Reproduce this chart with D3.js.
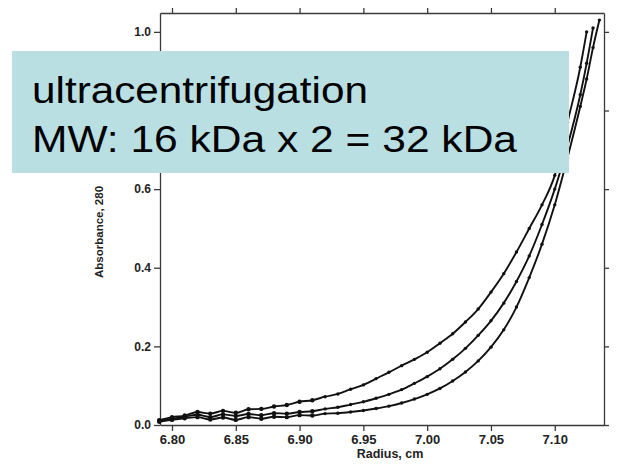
<!DOCTYPE html>
<html>
<head>
<meta charset="utf-8">
<script src="https://cdn.jsdelivr.net/npm/d3@7"></script>
<style>
  body { margin: 0; background: #fff; }
  svg { display: block; font-family: "Liberation Sans", Arial, sans-serif; }
</style>
</head>
<body>
<div id="graph"></div>
<script>
// radius (cm) at which each scan was read
var radius = [6.79, 6.80, 6.81, 6.82, 6.83, 6.84, 6.85, 6.86, 6.87, 6.88, 6.89,
              6.90, 6.91, 6.92, 6.93, 6.94, 6.95, 6.96, 6.97, 6.98, 6.99,
              7.00, 7.01, 7.02, 7.03, 7.04, 7.05, 7.06, 7.07, 7.08, 7.09,
              7.10, 7.11, 7.12, 7.125, 7.13, 7.135];

// absorbance at 280 nm, three scans
var scanA = [0.012, 0.020, 0.024, 0.033, 0.029, 0.036, 0.031, 0.040, 0.041, 0.047, 0.051,
             0.059, 0.063, 0.072, 0.079, 0.091, 0.102, 0.118, 0.134, 0.151, 0.167,
             0.185, 0.208, 0.232, 0.262, 0.295, 0.338, 0.385, 0.44, 0.50, 0.56,
             0.635, 0.77, 0.91, 1.00, null, null];
var scanB = [0.010, 0.016, 0.021, 0.026, 0.020, 0.027, 0.023, 0.028, 0.025, 0.030, 0.029,
             0.033, 0.035, 0.041, 0.045, 0.052, 0.059, 0.068, 0.078, 0.090, 0.106,
             0.123, 0.143, 0.167, 0.195, 0.228, 0.265, 0.31, 0.365, 0.43, 0.51,
             0.60, 0.71, 0.84, 0.92, 1.01, null];
var scanC = [0.008, 0.013, 0.017, 0.020, 0.014, 0.019, 0.013, 0.020, 0.016, 0.021, 0.020,
             0.025, 0.024, 0.029, 0.030, 0.033, 0.037, 0.042, 0.048, 0.056, 0.066,
             0.078, 0.093, 0.112, 0.135, 0.163, 0.198, 0.242, 0.30, 0.375, 0.46,
             0.56, 0.68, 0.81, 0.88, 0.96, 1.03];

var xTicks = [6.80, 6.85, 6.90, 6.95, 7.00, 7.05, 7.10];
var yTicks = [0.0, 0.2, 0.4, 0.6, 0.8, 1.0];
var noteLines = ["ultracentrifugation", "MW: 16 kDa x 2 = 32 kDa"];

var vis = d3.select('#graph').append('svg')
    .attr("width", 618)
    .attr("height", 464);

var x = d3.scaleLinear().domain([6.7906, 7.1386]).range([160, 604]);
var y = d3.scaleLinear().domain([0, 1.048]).range([425, 13]);

var axisColor = "#3a3a3a";

// axes (ticks outward on all four sides)
var axBottom = vis.append("g").attr("transform", "translate(0,425)")
    .call(d3.axisBottom(x).tickValues(xTicks).tickFormat(d3.format(".2f"))
          .tickSize(6).tickSizeOuter(0).tickPadding(4));
var axTop = vis.append("g").attr("transform", "translate(0,13)")
    .call(d3.axisTop(x).tickValues(xTicks).tickFormat("").tickSize(5).tickSizeOuter(0));
// the 0.8 label sits under the note box, so it is left blank
var axLeft = vis.append("g").attr("transform", "translate(160,0)")
    .call(d3.axisLeft(y).tickValues(yTicks)
          .tickFormat(function(d) { return d === 0.8 ? "" : d3.format(".1f")(d); })
          .tickSize(6).tickSizeOuter(0).tickPadding(3));
var axRight = vis.append("g").attr("transform", "translate(604,0)")
    .call(d3.axisRight(y).tickValues(yTicks).tickFormat("").tickSize(5).tickSizeOuter(0));

[axBottom, axTop, axLeft, axRight].forEach(function(g) {
  g.select(".domain").attr("stroke", axisColor).attr("stroke-width", 1.3);
  g.selectAll(".tick line").attr("stroke", axisColor).attr("stroke-width", 1.3);
  g.selectAll("text")
    .attr("fill", "#222")
    .style("font-family", "'Liberation Sans', Arial, sans-serif")
    .style("font-weight", "bold");
});
axBottom.selectAll("text").style("font-size", "13px");
axLeft.selectAll("text").style("font-size", "12px");

vis.append("text")
    .attr("x", 390).attr("y", 458)
    .attr("text-anchor", "middle")
    .attr("fill", "#222")
    .style("font-size", "12.5px").style("font-weight", "bold")
    .text("Radius, cm");

vis.append("text")
    .attr("transform", "translate(103,232) rotate(-90)")
    .attr("text-anchor", "middle")
    .attr("fill", "#222")
    .style("font-size", "11.5px").style("font-weight", "bold")
    .text("Absorbance, 280");

// scans
var scans = [scanA, scanB, scanC].map(function(s) {
  return radius.map(function(r, i) { return {r: r, a: s[i]}; })
               .filter(function(d) { return d.a != null; });
});

var line = d3.line()
    .x(function(d) { return x(d.r); })
    .y(function(d) { return y(d.a); })
    .curve(d3.curveMonotoneX);

vis.selectAll(".scan")
    .data(scans)
    .enter().append("path")
    .attr("class", "scan")
    .attr("d", line)
    .attr("fill", "none")
    .attr("stroke", "#111")
    .attr("stroke-width", 1.9);

scans.forEach(function(s) {
  vis.selectAll(null)
      .data(s)
      .enter().append("circle")
      .attr("cx", function(d) { return x(d.r); })
      .attr("cy", function(d) { return y(d.a); })
      .attr("r", function(d) { return d.r < 6.92 ? 2.2 : 1.7; })
      .attr("fill", "#111");
});

// overlay note
vis.append("rect")
    .attr("x", 12).attr("y", 51)
    .attr("width", 557).attr("height", 122)
    .attr("fill", "#b9dfe3");

vis.selectAll(".note")
    .data(noteLines)
    .enter().append("text")
    .attr("class", "note")
    .attr("x", 32)
    .attr("y", function(d, i) { return 103 + i * 49; })
    .attr("textLength", function(d, i) { return i === 0 ? 336 : 485; })
    .attr("lengthAdjust", "spacingAndGlyphs")
    .attr("fill", "#000")
    .style("font-size", "37px")
    .text(function(d) { return d; });
</script>
</body>
</html>
